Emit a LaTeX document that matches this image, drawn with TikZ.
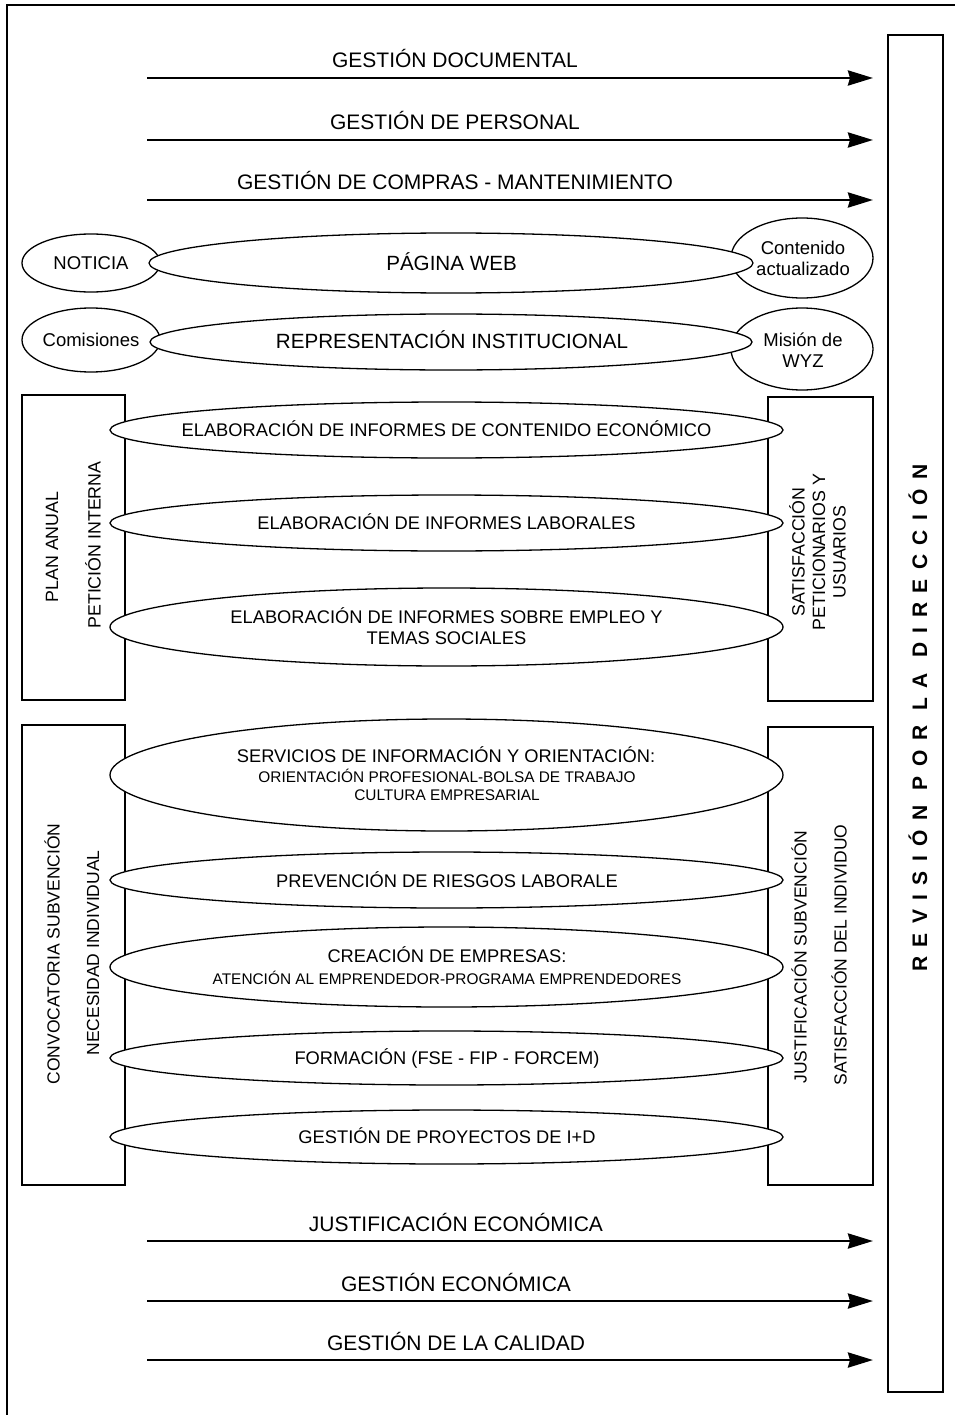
\documentclass[tikz,border=0pt]{standalone}
\usepackage{fontspec}
\setmainfont{Liberation Sans}
\newfontfamily\revfont[LetterSpace=45]{Liberation Sans}
\usetikzlibrary{shapes.geometric,arrows.meta}

\tikzset{
  frame/.style={line width=2pt},
  flowline/.style={line width=2.9pt,-{Stealth[length=25pt,width=15pt,inset=2pt]},shorten >=15pt},
  flowlabel/.style={font=\fontsize{21}{24}\selectfont,anchor=base,inner sep=0pt},
  sidebox/.style={draw,line width=1.4pt,fill=white,inner sep=0pt,outer sep=0pt},
  oval/.style={ellipse,draw,line width=1.3pt,fill=white,inner sep=0pt,outer sep=0pt},
  ovaltext/.style={font=\fontsize{18.3}{21}\selectfont,anchor=base,inner sep=0pt},
  ovalsub/.style={font=\fontsize{15.4}{18}\selectfont,anchor=base,inner sep=0pt},
  tagtext/.style={font=\fontsize{18.5}{21}\selectfont,align=center,inner sep=0pt},
  sidetext/.style={font=\fontsize{17.8}{20.5}\selectfont,rotate=90,align=center,inner sep=0pt},
}

\begin{document}
\begin{tikzpicture}[x=1pt,y=-1pt]
\useasboundingbox (0,0) rectangle (954,1415);

% outer frame
\draw[frame] (7,1416) -- (7,5) -- (955,5);

% management review column
\node[sidebox,line width=2pt,minimum width=55pt,minimum height=1357pt] (rev) at (915.5,713.5) {};
\node[font=\revfont\fontsize{21}{24}\selectfont\bfseries,rotate=90,inner sep=0pt] (revtxt) at (918,718) {REVISIÓN POR LA DIRECCIÓN};

% support processes (top)
\coordinate (a1) at (147,78);
\coordinate (a2) at (147,140);
\coordinate (a3) at (147,200);
\draw[flowline] (a1) -- (a1 -| rev.west);
\draw[flowline] (a2) -- (a2 -| rev.west);
\draw[flowline] (a3) -- (a3 -| rev.west);
\node[flowlabel] (l1) at (455,68) {GESTIÓN DOCUMENTAL};
\node[flowlabel] (l2) at (455,130) {GESTIÓN DE PERSONAL};
\node[flowlabel] (l3) at (455,190) {GESTIÓN DE COMPRAS - MANTENIMIENTO};

% web and institutional representation
\node[oval,minimum width=138pt,minimum height=58pt] (noticia) at (91,263) {};
\node[oval,minimum width=142pt,minimum height=80pt] (contenido) at (802,258) {};
\node[oval,minimum width=604pt,minimum height=60pt] (web) at (451,263) {};
\node[tagtext] (noticiatxt) at (noticia.center) {NOTICIA};
\node[tagtext] (contenidotxt) at (803,258) {Contenido\\actualizado};
\node[ovaltext,font=\fontsize{20.6}{24}\selectfont] (webtxt) at (451.5,270) {PÁGINA WEB};

\node[oval,minimum width=138pt,minimum height=64pt] (comisiones) at (91,340) {};
\node[oval,minimum width=142pt,minimum height=82pt] (mision) at (802,349) {};
\node[oval,minimum width=602pt,minimum height=56pt] (repr) at (451,342) {};
\node[tagtext] (comisionestxt) at (comisiones.center) {Comisiones};
\node[tagtext] (misiontxt) at (803,350) {Misión de\\WYZ};
\node[ovaltext,font=\fontsize{20.6}{24}\selectfont] (reprtxt) at (452,348) {REPRESENTACIÓN INSTITUCIONAL};

% reports block
\node[sidebox,minimum width=103pt,minimum height=305pt] (plan) at (73.5,547.5) {};
\node[sidebox,minimum width=105pt,minimum height=304pt] (satis) at (820.5,549) {};
\node[sidetext] (plantxt) at (52,547) {PLAN ANUAL};
\node[sidetext] (petictxt) at (93,545) {PETICIÓN INTERNA};
\node[sidetext] (satistxt) at (817.5,552) {SATISFACCIÓN\\PETICIONARIOS Y\\USUARIOS};

\node[oval,minimum width=673pt,minimum height=56pt] (r1) at (446.5,430) {};
\node[oval,minimum width=673pt,minimum height=56pt] (r2) at (446.5,523) {};
\node[oval,minimum width=673pt,minimum height=78pt] (r3) at (446.5,627) {};
\node[ovaltext] (r1txt) at (446.5,436.5) {ELABORACIÓN DE INFORMES DE CONTENIDO ECONÓMICO};
\node[ovaltext] (r2txt) at (446.5,529.5) {ELABORACIÓN DE INFORMES LABORALES};
\node[ovaltext] (r3txta) at (446.5,623.5) {ELABORACIÓN DE INFORMES SOBRE EMPLEO Y};
\node[ovaltext] (r3txtb) at (446.5,644.5) {TEMAS SOCIALES};

% services block
\node[sidebox,minimum width=103pt,minimum height=460pt] (conv) at (73.5,955) {};
\node[sidebox,minimum width=105pt,minimum height=458pt] (just) at (820.5,956) {};
\node[sidetext,font=\fontsize{17.5}{20.5}\selectfont] (convtxt) at (52,954) {CONVOCATORIA SUBVENCIÓN};
\node[sidetext,font=\fontsize{17.5}{20.5}\selectfont] (necetxt) at (93,953) {NECESIDAD INDIVIDUAL};
\node[sidetext,font=\fontsize{17.5}{20.5}\selectfont] (justtxt) at (799,957) {JUSTIFICACIÓN SUBVENCIÓN};
\node[sidetext,font=\fontsize{17.5}{20.5}\selectfont] (indivtxt) at (839,955) {SATISFACCIÓN DEL INDIVIDUO};

\node[oval,minimum width=673pt,minimum height=112pt] (s1) at (446.5,775) {};
\node[oval,minimum width=673pt,minimum height=56pt] (s2) at (446.5,880) {};
\node[oval,minimum width=673pt,minimum height=80pt] (s3) at (446.5,967) {};
\node[oval,minimum width=673pt,minimum height=54pt] (s4) at (446.5,1058) {};
\node[oval,minimum width=673pt,minimum height=54pt] (s5) at (446.5,1137) {};
\node[ovaltext] (s1txt) at (446,762) {SERVICIOS DE INFORMACIÓN Y ORIENTACIÓN:};
\node[ovalsub] (s1txtb) at (447,782) {ORIENTACIÓN PROFESIONAL-BOLSA DE TRABAJO};
\node[ovalsub] (s1txtc) at (447,800.5) {CULTURA EMPRESARIAL};
\node[ovaltext] (s2txt) at (447,887) {PREVENCIÓN DE RIESGOS LABORALE};
\node[ovaltext] (s3txt) at (447,962) {CREACIÓN DE EMPRESAS:};
\node[ovalsub] (s3txtb) at (447,984.5) {ATENCIÓN AL EMPRENDEDOR-PROGRAMA EMPRENDEDORES};
\node[ovaltext] (s4txt) at (447,1064.5) {FORMACIÓN (FSE - FIP - FORCEM)};
\node[ovaltext] (s5txt) at (447,1143.5) {GESTIÓN DE PROYECTOS DE I+D};

% support processes (bottom)
\coordinate (b1) at (147,1241);
\coordinate (b2) at (147,1301);
\coordinate (b3) at (147,1360);
\draw[flowline] (b1) -- (b1 -| rev.west);
\draw[flowline] (b2) -- (b2 -| rev.west);
\draw[flowline] (b3) -- (b3 -| rev.west);
\node[flowlabel] (m1) at (456,1231) {JUSTIFICACIÓN ECONÓMICA};
\node[flowlabel] (m2) at (456,1291) {GESTIÓN ECONÓMICA};
\node[flowlabel] (m3) at (456,1350) {GESTIÓN DE LA CALIDAD};
\end{tikzpicture}
\end{document}
